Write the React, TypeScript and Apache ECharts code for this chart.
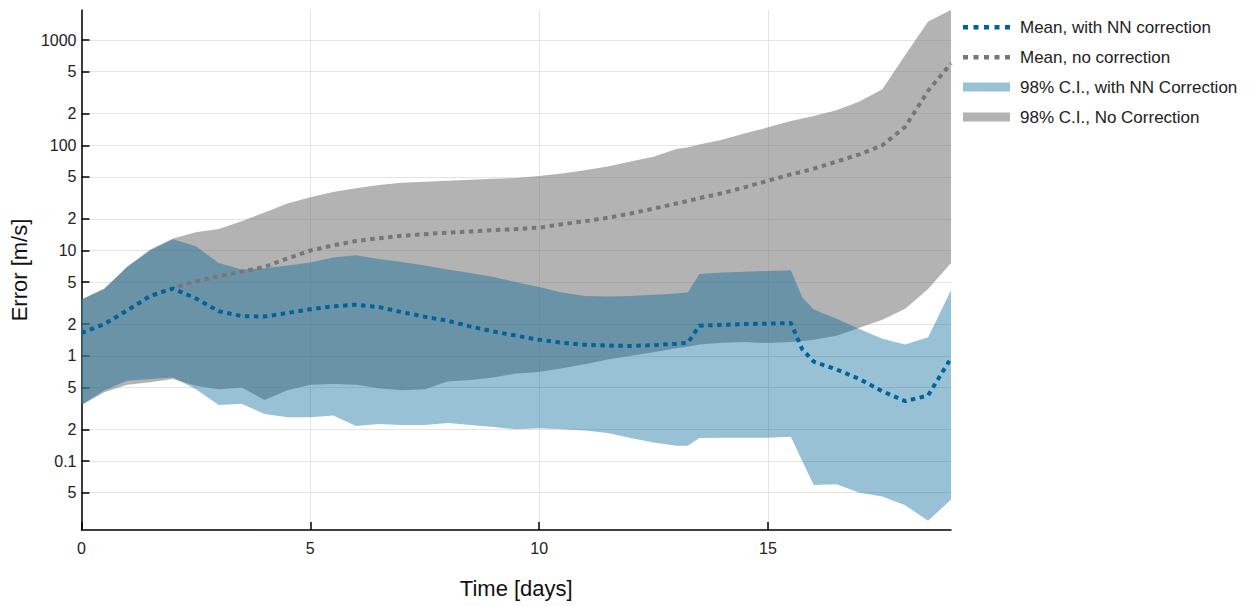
import React, { useEffect, useRef } from "react";
import * as echarts from "echarts";

// Time in days
const times = [
  0, 0.5, 1, 1.5, 2, 2.5, 3, 3.5, 4, 4.5, 5, 5.5, 6, 6.5, 7, 7.5, 8, 8.5, 9, 9.5,
  10, 10.5, 11, 11.5, 12, 12.5, 13, 13.25, 13.5, 14, 14.5, 15, 15.5, 15.75, 16,
  16.5, 17, 17.5, 18, 18.5, 19,
];

// Mean error with NN correction
const meanNN = [
  1.65, 2.0, 2.7, 3.7, 4.35, 3.5, 2.65, 2.38, 2.36, 2.55, 2.77, 2.95, 3.05, 2.9,
  2.6, 2.35, 2.15, 1.9, 1.7, 1.55, 1.42, 1.33, 1.27, 1.25, 1.24, 1.26, 1.3, 1.33,
  1.93, 1.97, 2.0, 2.02, 2.05, 1.15, 0.88, 0.74, 0.6, 0.46, 0.37, 0.42, 0.95,
];

// Mean error without correction
const meanNo = [
  1.65, 2.0, 2.7, 3.7, 4.4, 5.1, 5.7, 6.3, 7.0, 8.4, 10, 11.2, 12.3, 13.1, 13.8,
  14.3, 14.8, 15.2, 15.6, 16, 16.5, 17.8, 19, 20.5, 22.5, 25, 28, 29.5, 31.5, 35,
  40, 46, 53, 56, 60, 70, 82, 100, 150, 330, 600,
];

// 98% C.I. with NN correction
const upperNN = [
  3.4, 4.3, 7.0, 10, 12.8, 11, 7.6, 6.6, 6.8, 7.2, 7.7, 8.6, 9.0, 8.3, 7.8, 7.2,
  6.6, 6.1, 5.6, 5.0, 4.5, 4.0, 3.7, 3.65, 3.7, 3.8, 3.9, 4.0, 6.0, 6.2, 6.3, 6.4,
  6.5, 3.6, 2.75, 2.25, 1.8, 1.45, 1.28, 1.5, 4.2,
];
const lowerNN = [
  0.34, 0.47, 0.58, 0.6, 0.62, 0.48, 0.34, 0.35, 0.28, 0.26, 0.26, 0.27, 0.215,
  0.225, 0.22, 0.22, 0.23, 0.22, 0.21, 0.2, 0.205, 0.2, 0.195, 0.185, 0.165,
  0.15, 0.14, 0.14, 0.165, 0.166, 0.166, 0.166, 0.17, 0.1, 0.059, 0.06, 0.05,
  0.046, 0.038, 0.027, 0.043,
];

// 98% C.I. without correction
const upperNo = [
  3.45, 4.35, 7.0, 10.2, 13, 14.9, 16, 19, 23, 28, 32, 36, 39, 42, 44, 45, 46, 47,
  48, 49, 51, 54, 58, 63, 70, 78, 92, 96, 102, 113, 130, 148, 170, 180, 190, 215,
  260, 340, 720, 1500, 1930,
];
const lowerNo = [
  0.34, 0.45, 0.53, 0.56, 0.6, 0.52, 0.48, 0.5, 0.38, 0.47, 0.53, 0.54, 0.53,
  0.49, 0.47, 0.48, 0.57, 0.59, 0.62, 0.68, 0.7, 0.76, 0.83, 0.92, 1.0, 1.08,
  1.18, 1.22, 1.28, 1.33, 1.35, 1.32, 1.35, 1.38, 1.42, 1.55, 1.85, 2.2, 2.8, 4.3,
  7.6,
];

const yTickValues = [0.05, 0.1, 0.2, 0.5, 1, 2, 5, 10, 20, 50, 100, 200, 500, 1000];
const yTickLabels = ["5", "0.1", "2", "5", "1", "2", "5", "10", "2", "5", "100", "2", "5", "1000"];
const xTickValues = [0, 5, 10, 15];
const yMin = 0.0221;
const yMax = 1930;
const xMin = 0;
const xMax = 19;

const names = {
  meanNN: "Mean, with NN correction",
  meanNo: "Mean, no correction",
  bandNN: "98% C.I., with NN Correction",
  bandNo: "98% C.I., No Correction",
};

const lg = (v: number) => Math.log10(v);

// legend icon: five square dots, bounding box 47 x 9
const dottedIcon =
  "path://M0,0M47,9" +
  [0, 10.5, 21, 31.5, 42].map((x) => `M${x},2.5h5v4.5h-5z`).join("");

export default function App() {
  const ref = useRef<HTMLDivElement>(null);

  useEffect(() => {
    const chart = echarts.init(ref.current!, null, { renderer: "svg" });
    const pts = (arr: number[]) => times.map((t, i) => [t, lg(arr[i])]);

    const font = "'Liberation Sans', Arial, Helvetica, sans-serif";
    const grayBand = "rgba(128,128,128,0.6)";
    const blueBand = "rgba(0,100,150,0.4)";
    const grayLine = "#777777";
    const blueLine = "#00649a";

    const bandSeries = (name: string, lo: number[], hi: number[], color: string) => ({
      name,
      type: "custom",
      silent: true,
      clip: true,
      color,
      itemStyle: { color },
      data: times.map((t, i) => [t, lg(lo[i]), lg(hi[i])]),
      encode: { x: 0, y: [1, 2] },
      renderItem: (params: any, api: any) => {
        if (params.dataIndex !== 0) return null;
        const top = times.map((t, i) => api.coord([t, lg(hi[i])]));
        const bot = times.map((t, i) => api.coord([t, lg(lo[i])])).reverse();
        return {
          type: "polygon",
          shape: { points: top.concat(bot) },
          style: { fill: color, stroke: null },
        };
      },
    });
    const meanSeries = (name: string, data: number[][], color: string) => ({
      name,
      type: "line",
      data,
      symbol: "none",
      silent: true,
      color,
      itemStyle: { color },
      lineStyle: { color, width: 4, type: [4.5, 4.5], cap: "butt" },
    });

    const yLogTicks = yTickValues.map(lg);

    chart.setOption({
      animation: false,
      textStyle: { fontFamily: font },
      grid: { left: 81, right: 299, top: 10, bottom: 76, containLabel: false },
      legend: {
        orient: "vertical",
        left: 958,
        top: 12,
        itemWidth: 47,
        itemHeight: 9,
        itemGap: 10,
        textStyle: {
          fontFamily: font,
          fontSize: 17,
          color: "#222",
          lineHeight: 20,
          padding: [0, 0, 0, 5],
        },
        data: [
          { name: names.meanNN, icon: dottedIcon, itemStyle: { color: blueLine } },
          { name: names.meanNo, icon: dottedIcon, itemStyle: { color: grayLine } },
          { name: names.bandNN, icon: "rect", itemStyle: { color: blueBand } },
          { name: names.bandNo, icon: "rect", itemStyle: { color: grayBand } },
        ],
      },
      xAxis: {
        type: "value",
        min: xMin,
        max: xMax,
        interval: 5,
        name: "Time [days]",
        nameLocation: "middle",
        nameGap: 47,
        nameTextStyle: { fontSize: 22, color: "#111", fontFamily: font },
        axisLine: { onZero: false, lineStyle: { color: "#000", width: 1.5 } },
        axisTick: { inside: true, length: 8, customValues: xTickValues, lineStyle: { color: "#000", width: 1.5 } },
        axisLabel: { customValues: xTickValues, fontSize: 16, color: "#222", margin: 10, fontFamily: font },
        splitLine: { show: true, lineStyle: { color: "#e4e4e4", width: 1 } },
      },
      yAxis: {
        type: "value",
        min: lg(yMin),
        max: lg(yMax),
        name: "Error [m/s]",
        nameLocation: "middle",
        nameGap: 45,
        nameTextStyle: { fontSize: 22, color: "#111", fontFamily: font },
        axisLine: { show: true, onZero: false, lineStyle: { color: "#000", width: 1.5 } },
        axisTick: { show: true, inside: true, length: 8, customValues: yLogTicks, lineStyle: { color: "#000", width: 1.5 } },
        axisLabel: {
          customValues: yLogTicks,
          fontSize: 16,
          color: "#222",
          margin: 5,
          fontFamily: font,
          formatter: (v: number) => {
            let best = 0;
            let bd = Infinity;
            yLogTicks.forEach((t, i) => {
              const d = Math.abs(t - v);
              if (d < bd) {
                bd = d;
                best = i;
              }
            });
            return yTickLabels[best];
          },
        },
        splitLine: { show: true, lineStyle: { color: "#e4e4e4", width: 1 } },
      },
      series: [
        bandSeries(names.bandNo, lowerNo, upperNo, grayBand),
        bandSeries(names.bandNN, lowerNN, upperNN, blueBand),
        meanSeries(names.meanNo, pts(meanNo), grayLine),
        meanSeries(names.meanNN, pts(meanNN), blueLine),
      ],
    });

    return () => chart.dispose();
  }, []);

  return (
    <div
      ref={ref}
      style={{ position: "fixed", left: 0, top: 0, width: 1250, height: 606, background: "#fff" }}
    />
  );
}
